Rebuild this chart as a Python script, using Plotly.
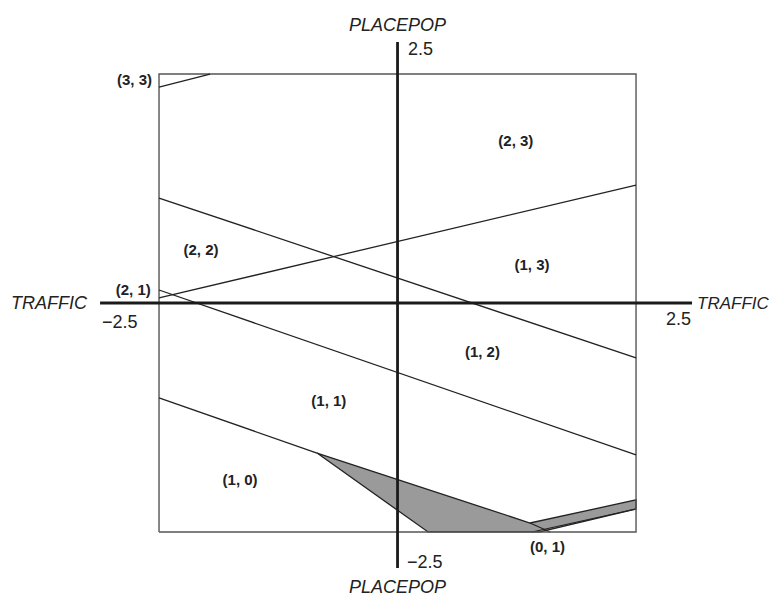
import plotly.graph_objects as go

# Boundary lines (TRAFFIC, PLACEPOP) in data units
line1_x = [-2.5, -1.965]
line1_y = [2.358, 2.5]
line2_x = [-2.5, 2.5]
line2_y = [1.146, -0.60]
line3_x = [-2.5, 2.5]
line3_y = [0.055, 1.288]
line4_x = [-2.5, 2.5]
line4_y = [0.142, -1.659]
line5_x = [-2.5, -0.844]
line5_y = [-1.037, -1.638]

# Shaded region
shade_x = [-0.844, 1.389, 2.5, 2.5, 1.494, 0.320, -0.844]
shade_y = [-1.638, -2.402, -2.15, -2.249, -2.5, -2.5, -1.638]
extra_x = [[1.389, 1.60], [1.41, 2.5]]
extra_y = [[-2.402, -2.5], [-2.5, -2.249]]

# Region labels
region_labels = ["(3, 3)", "(2, 3)", "(2, 2)", "(1, 3)", "(2, 1)", "(1, 2)", "(1, 1)", "(1, 0)", "(0, 1)"]
region_x = [-2.757, 1.24, -2.06, 1.41, -2.77, 0.89, -0.72, -1.65, 1.572]
region_y = [2.418, 1.76, 0.57, 0.40, 0.13, -0.55, -1.08, -1.95, -2.68]

lim = 2.5
axis_x_ext = [-3.118, 3.087]
axis_y_ext = [-2.893, 2.849]

fig = go.Figure()

fig.add_trace(go.Scatter(x=shade_x, y=shade_y, fill="toself", fillcolor="#9a9a9a",
                         mode="lines", line=dict(color="#222", width=1.3), hoverinfo="skip"))
for ex, ey in zip(extra_x, extra_y):
    fig.add_trace(go.Scatter(x=ex, y=ey, mode="lines", line=dict(color="#222", width=1.1), hoverinfo="skip"))

fig.add_trace(go.Scatter(x=[-lim, lim, lim, -lim, -lim], y=[-lim, -lim, lim, lim, -lim],
                         mode="lines", line=dict(color="#555", width=1.4), hoverinfo="skip"))

for lx, ly in [(line1_x, line1_y), (line2_x, line2_y), (line3_x, line3_y),
               (line4_x, line4_y), (line5_x, line5_y)]:
    fig.add_trace(go.Scatter(x=lx, y=ly, mode="lines", line=dict(color="#222", width=1.3), hoverinfo="skip"))

fig.add_trace(go.Scatter(x=axis_x_ext, y=[0, 0], mode="lines", line=dict(color="#1a1a1a", width=2.8), hoverinfo="skip"))
fig.add_trace(go.Scatter(x=[0, 0], y=axis_y_ext, mode="lines", line=dict(color="#1a1a1a", width=2.8), hoverinfo="skip"))

fig.add_trace(go.Scatter(x=region_x, y=region_y, mode="text", text=region_labels,
                         textfont=dict(family="Liberation Sans, Arial", size=15, color="#222"),
                         texttemplate="<b>%{text}</b>", hoverinfo="skip"))

font_it = dict(family="Liberation Sans, Arial", size=18, color="#222")
font_it_r = dict(family="Liberation Sans, Arial", size=17, color="#222")
font_tk = dict(family="Liberation Sans, Arial", size=18, color="#222")
ann = [
    dict(x=0, y=3.04, text="<i>PLACEPOP</i>", font=font_it),
    dict(x=0, y=-3.10, text="<i>PLACEPOP</i>", font=font_it),
    dict(x=-3.65, y=0.0, text="<i>TRAFFIC</i>", font=font_it),
    dict(x=3.52, y=0.0, text="<i>TRAFFIC</i>", font=font_it_r),
    dict(x=0.236, y=2.77, text="2.5", font=font_tk),
    dict(x=0.288, y=-2.83, text="\u22122.5", font=font_tk),
    dict(x=-2.91, y=-0.21, text="\u22122.5", font=font_tk),
    dict(x=2.94, y=-0.18, text="2.5", font=font_tk),
]
for a in ann:
    a.update(showarrow=False, xref="x", yref="y")

fig.update_layout(
    width=774, height=589, margin=dict(l=0, r=0, t=0, b=0),
    paper_bgcolor="white", plot_bgcolor="white", showlegend=False,
    xaxis=dict(range=[-4.083, 4.030], visible=False, fixedrange=True),
    yaxis=dict(range=[-3.210, 3.221], visible=False, fixedrange=True),
    annotations=ann,
)

fig.write_html("out.html")
